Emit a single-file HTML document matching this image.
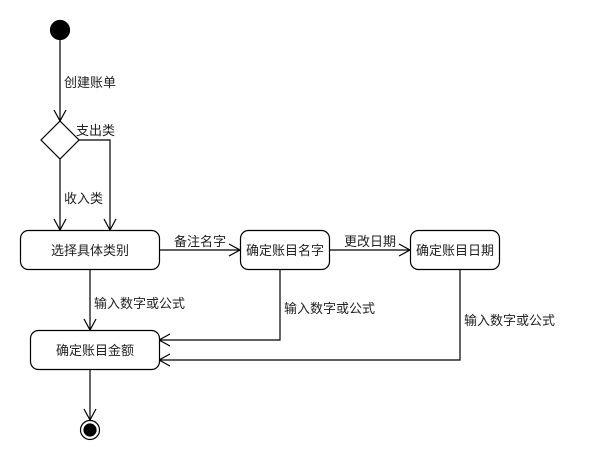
<!DOCTYPE html>
<html><head><meta charset="utf-8"><style>
html,body{margin:0;padding:0;background:#fff;width:600px;height:460px;overflow:hidden}
text{font-family:"Liberation Sans","Noto Sans CJK SC",sans-serif;font-size:13px;fill:#222}
</style></head><body>
<svg width="600" height="460" xmlns="http://www.w3.org/2000/svg">
<g stroke="#000" stroke-width="1.2" fill="none">
<circle cx="60" cy="30" r="9.5" fill="#000"/>
<line x1="60" y1="39" x2="60" y2="121"/>
<polyline points="54,110 60,121 66,110"/>
<polygon points="60,121 79,140 60,159 41,140" fill="#fff"/>
<line x1="60" y1="159" x2="60" y2="230"/>
<polyline points="54,219 60,230 66,219"/>
<polyline points="79,140 110,140 110,230"/>
<polyline points="104,219 110,230 116,219"/>
<rect x="20.5" y="230.5" width="139" height="39" rx="8" fill="#fff"/>
<line x1="159" y1="250" x2="240" y2="250"/>
<polyline points="229,244 240,250 229,256"/>
<rect x="240.5" y="230.5" width="89" height="39" rx="8" fill="#fff"/>
<line x1="330" y1="250" x2="410" y2="250"/>
<polyline points="399,244 410,250 399,256"/>
<rect x="410.5" y="230.5" width="89" height="39" rx="8" fill="#fff"/>
<line x1="90" y1="269" x2="90" y2="330"/>
<polyline points="84,319 90,330 96,319"/>
<polyline points="280,269 280,340 159,340"/>
<polyline points="170,334 159,340 170,346"/>
<polyline points="460,269 460,360 159,360"/>
<polyline points="170,354 159,360 170,366"/>
<rect x="30.5" y="330.5" width="129" height="39" rx="8" fill="#fff"/>
<line x1="90" y1="369" x2="90" y2="420"/>
<polyline points="84,409 90,420 96,409"/>
<circle cx="90" cy="430" r="9.5" fill="#fff"/>
<circle cx="90" cy="430" r="6" fill="#000"/>
</g>
<text x="64" y="87">创建账单</text>
<text x="76" y="135">支出类</text>
<text x="64" y="203">收入类</text>
<text x="90" y="255" text-anchor="middle">选择具体类别</text>
<text x="174" y="246">备注名字</text>
<text x="285" y="255" text-anchor="middle">确定账目名字</text>
<text x="344" y="246">更改日期</text>
<text x="455" y="255" text-anchor="middle">确定账目日期</text>
<text x="94" y="308">输入数字或公式</text>
<text x="284" y="313">输入数字或公式</text>
<text x="464" y="325">输入数字或公式</text>
<text x="95" y="355" text-anchor="middle">确定账目金额</text>
</svg>
</body></html>
